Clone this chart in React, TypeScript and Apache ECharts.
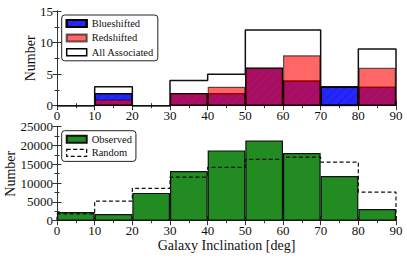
import React, { useEffect, useRef } from "react";
import * as echarts from "echarts";

const binEdges = [0, 10, 20, 30, 40, 50, 60, 70, 80, 90];
const binLabels = ["0-10", "10-20", "20-30", "30-40", "40-50", "50-60", "60-70", "70-80", "80-90"];
const blueshifted = [0, 2, 0, 2, 2, 6, 4, 3, 3];
const redshifted = [0, 1, 0, 2, 3, 6, 8, 0, 6];
const allAssociated = [0, 3, 0, 4, 5, 12, 12, 3, 9];
const observed = [2300, 1800, 7400, 13200, 18700, 21300, 18000, 11900, 3100];
const randomCounts = [1800, 5200, 8600, 11600, 14200, 16300, 16900, 15600, 7600];

function stepPoints(vals: number[]): number[][] {
  const pts: number[][] = [[binEdges[0], 0]];
  vals.forEach((v, i) => pts.push([binEdges[i], v]));
  pts.push([binEdges[binEdges.length - 1], vals[vals.length - 1]]);
  pts.push([binEdges[binEdges.length - 1], 0]);
  return pts;
}

const FONT = "Liberation Serif";
const AX = "#333";

export default function App() {
  const ref = useRef<HTMLDivElement>(null);
  useEffect(() => {
    if (!ref.current) return;
    const chart = echarts.init(ref.current, undefined, { renderer: "svg" });
    const gridTop = { left: 57, top: 11, width: 339, height: 94.7, containLabel: false, outerBoundsMode: "none" };
    const gridBot = { left: 57, top: 126.7, width: 339, height: 94, containLabel: false, outerBoundsMode: "none" };
    const tickCommon = {
      axisLine: { show: true, lineStyle: { color: AX, width: 1 } },
      axisTick: { show: true, inside: true, length: 4.5, lineStyle: { color: AX } },
      minorTick: { show: true, splitNumber: 2, length: 2.5, lineStyle: { color: AX } },
      splitLine: { show: false },
    };
    const fmt = (v: number) => String(v);
    const xValue = (grid: number, pos: string, labels: boolean, name?: string) => ({
      type: "value",
      gridIndex: grid,
      position: pos,
      min: 0,
      max: 90,
      interval: 10,
      ...tickCommon,
      axisLabel: { show: labels, fontSize: 13, color: "#111", margin: 3, fontFamily: FONT, formatter: fmt },
      name: name,
      nameLocation: "middle",
      nameGap: 18,
      nameMoveOverlap: false,
      nameTextStyle: { fontSize: 14, color: "#111", fontFamily: FONT },
    });
    const xCat = (grid: number) => ({
      type: "category",
      gridIndex: grid,
      data: binLabels,
      show: false,
    });
    const yValue = (grid: number, pos: string, labels: boolean, max: number, interval: number, nameGap: number) => ({
      type: "value",
      gridIndex: grid,
      position: pos,
      min: 0,
      max: max,
      interval: interval,
      ...tickCommon,
      axisLabel: { show: labels, fontSize: 13, color: "#111", margin: 4, fontFamily: FONT, formatter: fmt },
      name: labels ? "Number" : undefined,
      nameLocation: "middle",
      nameGap: nameGap,
      nameMoveOverlap: false,
      nameTextStyle: { fontSize: 14, color: "#111", fontFamily: FONT },
    });
    const hatch = {
      symbol: "rect",
      symbolSize: 1,
      dashArrayX: [[1, 0]],
      dashArrayY: [1, 5],
      rotation: -Math.PI / 4,
      color: "rgba(0,0,60,0.22)",
    };
    const legendCommon = {
      orient: "vertical",
      itemWidth: 20,
      itemHeight: 7,
      padding: [3, 4, 3, 4],
      borderColor: "#222",
      borderWidth: 1,
      borderRadius: 3,
      backgroundColor: "#fff",
      selectedMode: false,
      textStyle: { fontSize: 10.5, lineHeight: 11, color: "#111", fontFamily: FONT },
    };
    chart.setOption({
      animation: false,
      textStyle: { fontFamily: FONT },
      grid: [gridTop, gridBot],
      xAxis: [
        xValue(0, "bottom", true),
        xValue(0, "top", false),
        xCat(0),
        xValue(1, "bottom", true, "Galaxy Inclination [deg]"),
        xValue(1, "top", false),
        xCat(1),
      ],
      yAxis: [
        yValue(0, "left", true, 15, 5, 19.5),
        yValue(0, "right", false, 15, 5, 0),
        yValue(1, "left", true, 25000, 5000, 40),
        yValue(1, "right", false, 25000, 5000, 0),
      ],
      legend: [
        {
          ...legendCommon,
          left: 61.7,
          top: 15,
          itemGap: 3.4,
          data: [
            { name: "Blueshifted", icon: "rect" },
            { name: "Redshifted", icon: "rect" },
            {
              name: "All Associated",
              icon: "rect",
              itemStyle: { color: "#fff", borderColor: "#000", borderWidth: 1.5 },
            },
          ],
        },
        {
          ...legendCommon,
          left: 61.7,
          top: 130.7,
          itemGap: 2.7,
          data: [
            { name: "Observed", icon: "rect" },
            {
              name: "Random",
              icon: "rect",
              itemStyle: { color: "#fff", borderColor: "#000", borderWidth: 1.2, borderType: [4, 2.5] },
            },
          ],
        },
      ],
      series: [
        {
          name: "Blueshifted",
          type: "bar",
          xAxisIndex: 2,
          yAxisIndex: 0,
          data: blueshifted,
          barWidth: "100%",
          barGap: "-100%",
          itemStyle: { color: "rgba(0,0,255,0.85)", borderColor: "#000", borderWidth: 1.2, decal: hatch },
        },
        {
          name: "Redshifted",
          type: "bar",
          xAxisIndex: 2,
          yAxisIndex: 0,
          data: redshifted,
          barWidth: "100%",
          barGap: "-100%",
          itemStyle: { color: "rgba(255,0,0,0.6)", borderColor: "rgba(0,0,0,0.6)", borderWidth: 1.2 },
        },
        {
          name: "All Associated",
          type: "line",
          xAxisIndex: 0,
          yAxisIndex: 0,
          data: stepPoints(allAssociated),
          step: "end",
          symbol: "none",
          lineStyle: { color: "#111", width: 1.5 },
          itemStyle: { color: "#fff", borderColor: "#000" },
          z: 3,
        },
        {
          name: "Observed",
          type: "bar",
          xAxisIndex: 5,
          yAxisIndex: 2,
          data: observed,
          barWidth: "100%",
          itemStyle: { color: "#228b22", borderColor: "#111", borderWidth: 1.2 },
        },
        {
          name: "Random",
          type: "line",
          xAxisIndex: 3,
          yAxisIndex: 2,
          data: stepPoints(randomCounts),
          step: "end",
          symbol: "none",
          lineStyle: { color: "#111", width: 1.2, type: [4, 2.5] },
          itemStyle: { color: "#fff", borderColor: "#000" },
          z: 3,
        },
      ],
    });
    return () => chart.dispose();
  }, []);
  return (
    <div
      ref={ref}
      style={{ position: "fixed", left: 0, top: 0, width: 407, height: 259, background: "#fff" }}
    />
  );
}
